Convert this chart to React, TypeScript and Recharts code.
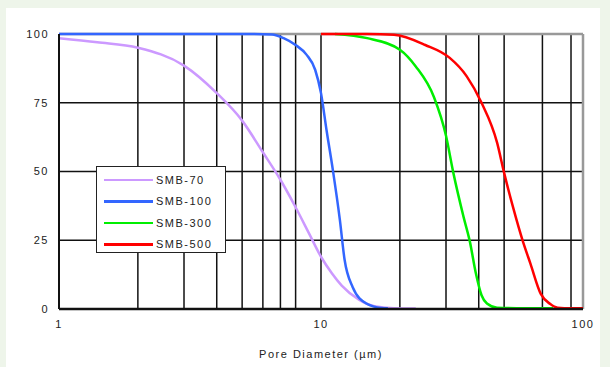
import { LineChart, Line, XAxis, YAxis, CartesianGrid, ReferenceLine, Legend } from 'recharts';

const smb70X = [1, 1.4, 2, 3, 4, 5, 6, 7, 8, 9, 10, 11, 12, 14, 16, 19, 23];
const smb70Y = [98.5, 97, 95, 88.5, 78.5, 68.5, 57, 47, 37, 27.5, 19, 13, 8.5, 3.3, 1, 0.3, 0.2];

const smb100X = [1, 5, 6.5, 7.2, 8, 8.8, 9.5, 10, 10.5, 11.1, 11.8, 12.3, 13.2, 14.9, 17, 18];
const smb100Y = [100, 100, 99.8, 98.5, 96, 92.5, 87, 78.5, 65, 50.5, 32.5, 18, 8, 2, 0.4, 0.3];

const smb300X = [11.3, 15, 20, 23, 27, 30, 32, 35, 37, 39, 41, 43, 47, 60, 77];
const smb300Y = [100, 98.5, 94.3, 88.2, 77, 63, 49.5, 33.5, 24.5, 13, 5, 2, 0.5, 0.3, 0.3];

const smb500X = [10, 15, 19, 25, 31, 36, 41, 47, 50, 54, 59, 63, 69, 75, 80, 90, 100];
const smb500Y = [100, 100, 99.7, 96, 91.3, 84.6, 75, 60.5, 49.5, 37.2, 24.5, 16.5, 5.5, 1.8, 0.5, 0.3, 0.3];

const xTicks = [1, 10, 100];
const yTicks = [0, 25, 50, 75, 100];
const minorX = [2, 3, 4, 5, 6, 7, 8, 9, 10, 20, 30, 40, 50, 60, 70, 80, 90];

const toRows = (xs: number[], ys: number[]) => xs.map((x, i) => ({ x, y: ys[i] }));

const series = [
    { name: 'SMB-70', color: '#cc99ff', data: toRows(smb70X, smb70Y) },
    { name: 'SMB-100', color: '#3366ff', data: toRows(smb100X, smb100Y) },
    { name: 'SMB-300', color: '#00ee00', data: toRows(smb300X, smb300Y) },
    { name: 'SMB-500', color: '#ff0000', data: toRows(smb500X, smb500Y) }
];

const font = { fontFamily: '"Liberation Sans", Arial, sans-serif', fontSize: 11, fill: '#222', letterSpacing: 1.5 };

const LegendBox = () => (
    <div
        style={{
            width: 130,
            height: 87,
            boxSizing: 'border-box',
            background: '#fff',
            border: '1.5px solid #222',
            padding: '2px 0 0 7px',
            fontFamily: font.fontFamily,
            fontSize: 11,
            color: '#222',
            letterSpacing: 1.5,
            textAlign: 'left'
        }}
    >
        {series.map(s => (
            <div key={s.name} style={{ display: 'flex', alignItems: 'center', height: 21.5 }}>
                <div style={{ width: 49, height: 2.5, background: s.color, marginRight: 3 }} />
                <span>{s.name}</span>
            </div>
        ))}
    </div>
);

export default function App() {
    return (
        <div style={{ position: 'absolute', left: 0, top: 0, width: 610, height: 367, background: '#eef5ea' }}>
            <div style={{ position: 'absolute', left: 6, top: 8, width: 594, height: 359, background: '#fff' }} />
            <div style={{ position: 'absolute', left: 0, top: 0 }}>
                <LineChart width={610} height={367} margin={{ top: 34, right: 27, left: 19, bottom: 0 }}>
                    <CartesianGrid
                        stroke="#111"
                        strokeWidth={1.5}
                        verticalValues={minorX}
                        horizontalValues={[25, 50, 75]}
                    />
                    <XAxis
                        dataKey="x"
                        type="number"
                        scale="log"
                        domain={[1, 100]}
                        ticks={xTicks}
                        allowDataOverflow
                        height={58}
                        tickLine={false}
                        tickSize={6}
                        tickMargin={5}
                        axisLine={{ stroke: '#111', strokeWidth: 2.5 }}
                        tick={font}
                        label={{ value: 'Pore Diameter (µm)', position: 'insideBottom', offset: 9, style: font }}
                    />
                    <YAxis
                        type="number"
                        domain={[0, 100]}
                        ticks={yTicks}
                        width={40}
                        tickLine={false}
                        tickSize={6}
                        tickMargin={4}
                        axisLine={{ stroke: '#111', strokeWidth: 2 }}
                        tick={font}
                    />
                    <ReferenceLine y={100} stroke="#999" strokeWidth={2.5} />
                    <ReferenceLine x={100} stroke="#999" strokeWidth={2.5} />
                    {series.map(s => (
                        <Line
                            key={s.name}
                            data={s.data}
                            dataKey="y"
                            name={s.name}
                            type="monotone"
                            stroke={s.color}
                            strokeWidth={2.5}
                            dot={false}
                            isAnimationActive={false}
                        />
                    ))}
                    <Legend
                        content={<LegendBox />}
                        layout="vertical"
                        verticalAlign="middle"
                        align="center"
                        wrapperStyle={{ left: 96, top: 166, width: 130, height: 87 }}
                    />
                </LineChart>
            </div>
        </div>
    );
}
